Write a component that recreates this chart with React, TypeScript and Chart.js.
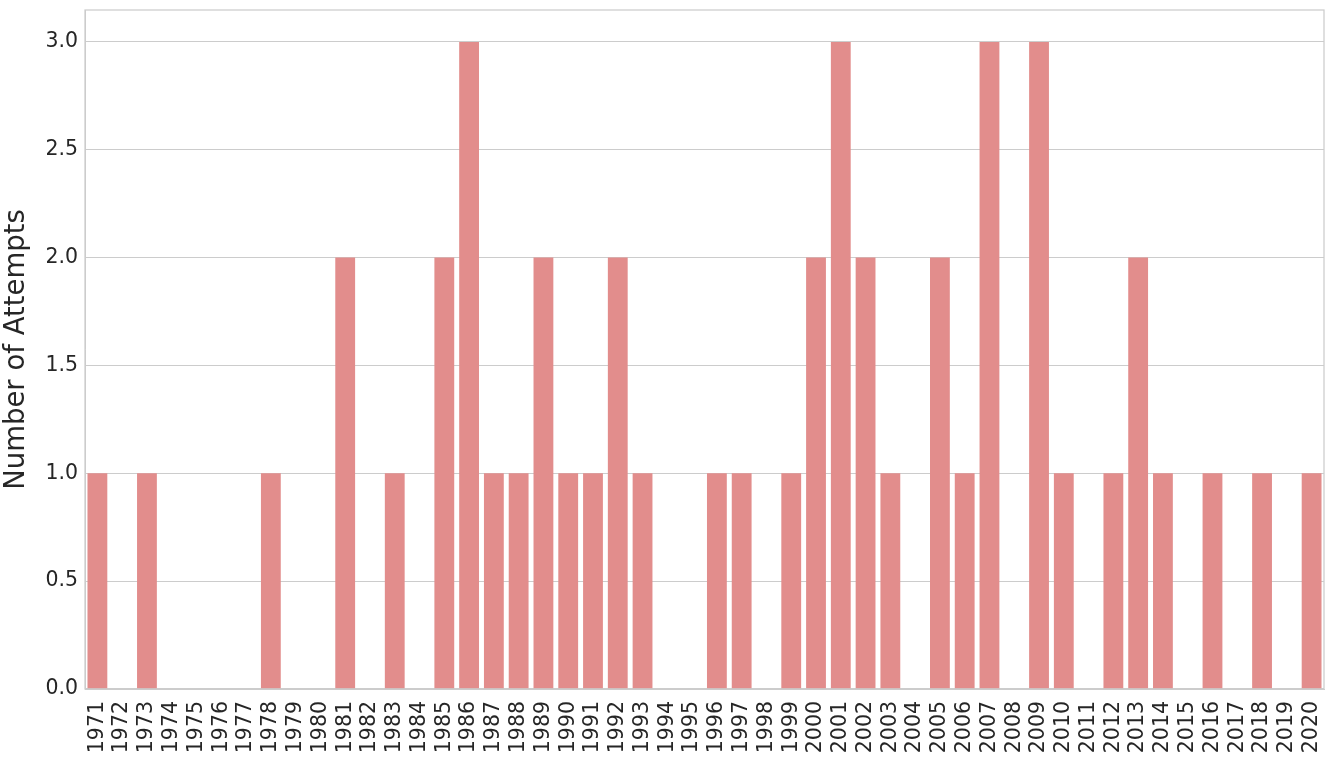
import React, { useEffect, useRef } from "react";
import { Chart, registerables } from "chart.js";

Chart.register(...registerables);

const years: string[] = [];
for (let y = 1971; y <= 2020; y++) years.push(String(y));

const attempts = [
  1, 0, 1, 0, 0, 0, 0, 1, 0, 0,
  2, 0, 1, 0, 2, 3, 1, 1, 2, 1,
  1, 2, 1, 0, 0, 1, 1, 0, 1, 2,
  3, 2, 1, 0, 2, 1, 3, 0, 3, 1,
  0, 1, 2, 1, 0, 1, 0, 1, 0, 1,
];

const yTicks = [0, 0.5, 1, 1.5, 2, 2.5, 3];

const frame = {
  id: "frame",
  afterDatasetsDraw(chart: any) {
    const { ctx, chartArea } = chart;
    ctx.save();
    ctx.strokeStyle = "#cccccc";
    ctx.lineWidth = 1.25;
    ctx.strokeRect(chartArea.left, chartArea.top, chartArea.right - chartArea.left, chartArea.bottom - chartArea.top);
    ctx.restore();
  },
};

export default function App() {
  const ref = useRef<HTMLCanvasElement>(null);
  useEffect(() => {
    const chart = new Chart(ref.current!, {
      type: "bar",
      data: {
        labels: years,
        datasets: [
          {
            data: attempts,
            backgroundColor: "#e28d8c",
            categoryPercentage: 1,
            barPercentage: 0.8,
          },
        ],
      },
      options: {
        animation: false,
        responsive: false,
        maintainAspectRatio: false,
        layout: { padding: { top: 10, right: 9, left: 0, bottom: 0 } },
        plugins: { legend: { display: false }, tooltip: { enabled: false } },
        scales: {
          x: {
            offset: true,
            grid: { display: false },
            border: { color: "#cccccc" },
            ticks: {
              autoSkip: false,
              maxRotation: 90,
              minRotation: 90,
              color: "#262626",
              padding: 4,
              font: { family: "DejaVu Sans", size: 20.5 },
            },
            afterFit(scale: any) {
              scale.height = 72;
              scale.paddingLeft = 0;
              scale.paddingRight = 0;
            },
          },
          y: {
            min: 0,
            max: 3.148,
            afterBuildTicks(scale: any) {
              scale.ticks = yTicks.map((v) => ({ value: v }));
            },
            grid: { color: "#cccccc", lineWidth: 1.1, drawTicks: false },
            border: { color: "#cccccc" },
            ticks: {
              color: "#262626",
              padding: 7,
              font: { family: "DejaVu Sans", size: 20.5 },
              callback: (v: any) => Number(v).toFixed(1),
            },
            title: {
              display: true,
              text: "Number of Attempts",
              color: "#262626",
              font: { family: "DejaVu Sans", size: 27.5 },
              padding: { top: 0, bottom: 2 },
            },
            afterFit(scale: any) {
              scale.width = 85;
              scale.paddingTop = 0;
              scale.paddingBottom = 0;
            },
          },
        },
      },
      plugins: [frame],
    });
    return () => chart.destroy();
  }, []);
  return (
    <div style={{ position: "fixed", left: 0, top: 0, width: 1333, height: 761, background: "#fff" }}>
      <canvas ref={ref} width={1333} height={761} style={{ display: "block" }} />
    </div>
  );
}
